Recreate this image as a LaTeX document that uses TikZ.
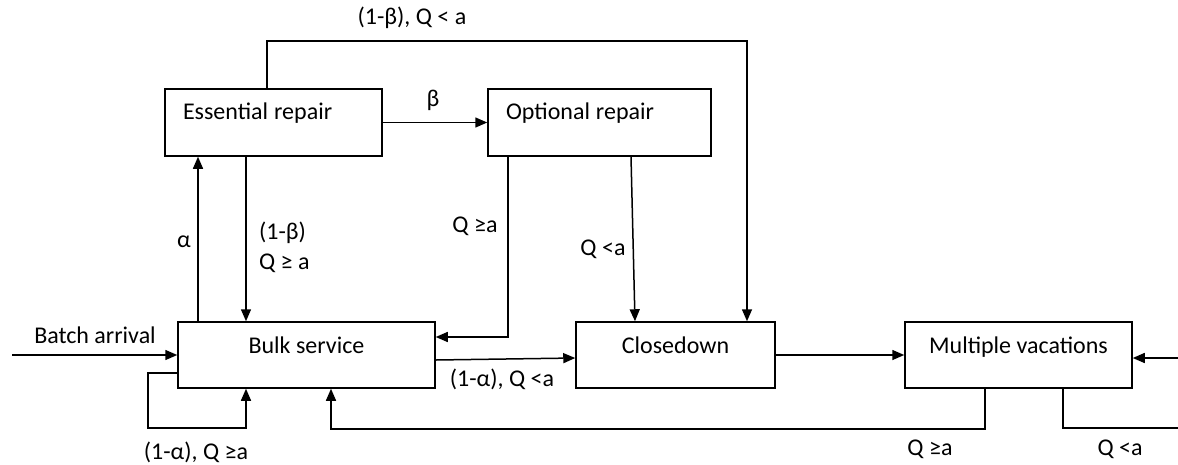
\documentclass[tikz,border=0pt]{standalone}
\usepackage{fontspec}
\setmainfont{Carlito}
\usetikzlibrary{arrows.meta,calc}
\tikzset{every picture/.style={line width=1.5pt}}
\tikzset{
    every node/.style={font=\fontsize{24}{30}\selectfont},
    stbox/.style={draw, inner sep=0pt, minimum height=66pt, text height=17pt, text depth=21pt},
    repair/.style={stbox, minimum height=67pt, align=left, inner xsep=18pt, text depth=24pt},
    arr/.style={-{Triangle[length=12pt,width=10pt]}}
}

\begin{document}
\begin{tikzpicture}[x=1pt,y=-1pt]
    \clip (0,0) rectangle (1178,464);
    % 绘制状态框
    \node[repair, text width=181pt] (ess) at (273.5,122.5) {Essential\hspace{-2pt} repair};
    \node[repair, text width=187pt] (opt) at (599.5,122.5) {Optional\hspace{-2pt} repair};
    \node[stbox, minimum width=257pt] (bulk) at (306.5,355) {Bulk service};
    \node[stbox, minimum width=199pt] (close) at (675.5,355) {Closedown};
    \node[stbox, minimum width=227pt] (vac) at (1018.5,355) {Multiple vacations};

    % 辅助坐标
    \coordinate (dn) at (246,0);
    \coordinate (up) at (198,0);
    \coordinate (top) at (747,41);
    \coordinate (src) at (12,355);
    \coordinate (self) at (148,428);
    \coordinate (edge) at (1195,428);

    % 修理之间的转移
    \draw[arr] ([xshift=-6.5pt]ess.north) |- (top) -- (top |- close.north);
    \draw[arr] (ess.east) -- (opt.west);
    \draw[arr] (ess.south -| dn) -- (bulk.north -| dn);
    \draw[arr] (bulk.north -| up) -- (ess.south -| up);
    \draw[arr] ([xshift=-91.5pt]opt.south) |- ([yshift=18pt]bulk.east);
    \draw[arr] ([xshift=31.5pt]opt.south) -- ([xshift=-40.5pt]close.north);

    % 服务、关闭与休假
    \draw[arr] ([yshift=-5pt]bulk.east) -- ([yshift=-3pt]close.west);
    \draw[arr] (close.east) -- (vac.west);
    \draw[arr] (src) -- (bulk.west);
    \draw[arr] ([yshift=-18pt]bulk.west) -| (self) -| (bulk.south -| dn);
    \draw[arr] ([xshift=-33.5pt]vac.south) -- ++(0,40) -| ([xshift=24.5pt]bulk.south);
    \draw[arr] ([xshift=44.5pt]vac.south) |- (edge) |- ([yshift=-3pt]vac.east);

    % 标注条件
    \node (lbtop) at (412,18) {(1-β), Q < a};
    \node (lbeta) at (433,100) {β};
    \node (lalpha) at (184,242) {α};
    \node[anchor=west, align=left] (lesb) at (255,247) {(1-β)\\Q ≥ a};
    \node (loq1) at (475,226) {Q ≥a};
    \node (loq2) at (603,249) {Q <a};
    \node (lbc) at (502,379) {(1-α), Q <a};
    \node (lbatch) at (95,335) {Batch arrival};
    \node (lself) at (196,452) {(1-α), Q ≥a};
    \node (lvq1) at (930,449) {Q ≥a};
    \node (lvq2) at (1120,449) {Q <a};
\end{tikzpicture}
\end{document}
